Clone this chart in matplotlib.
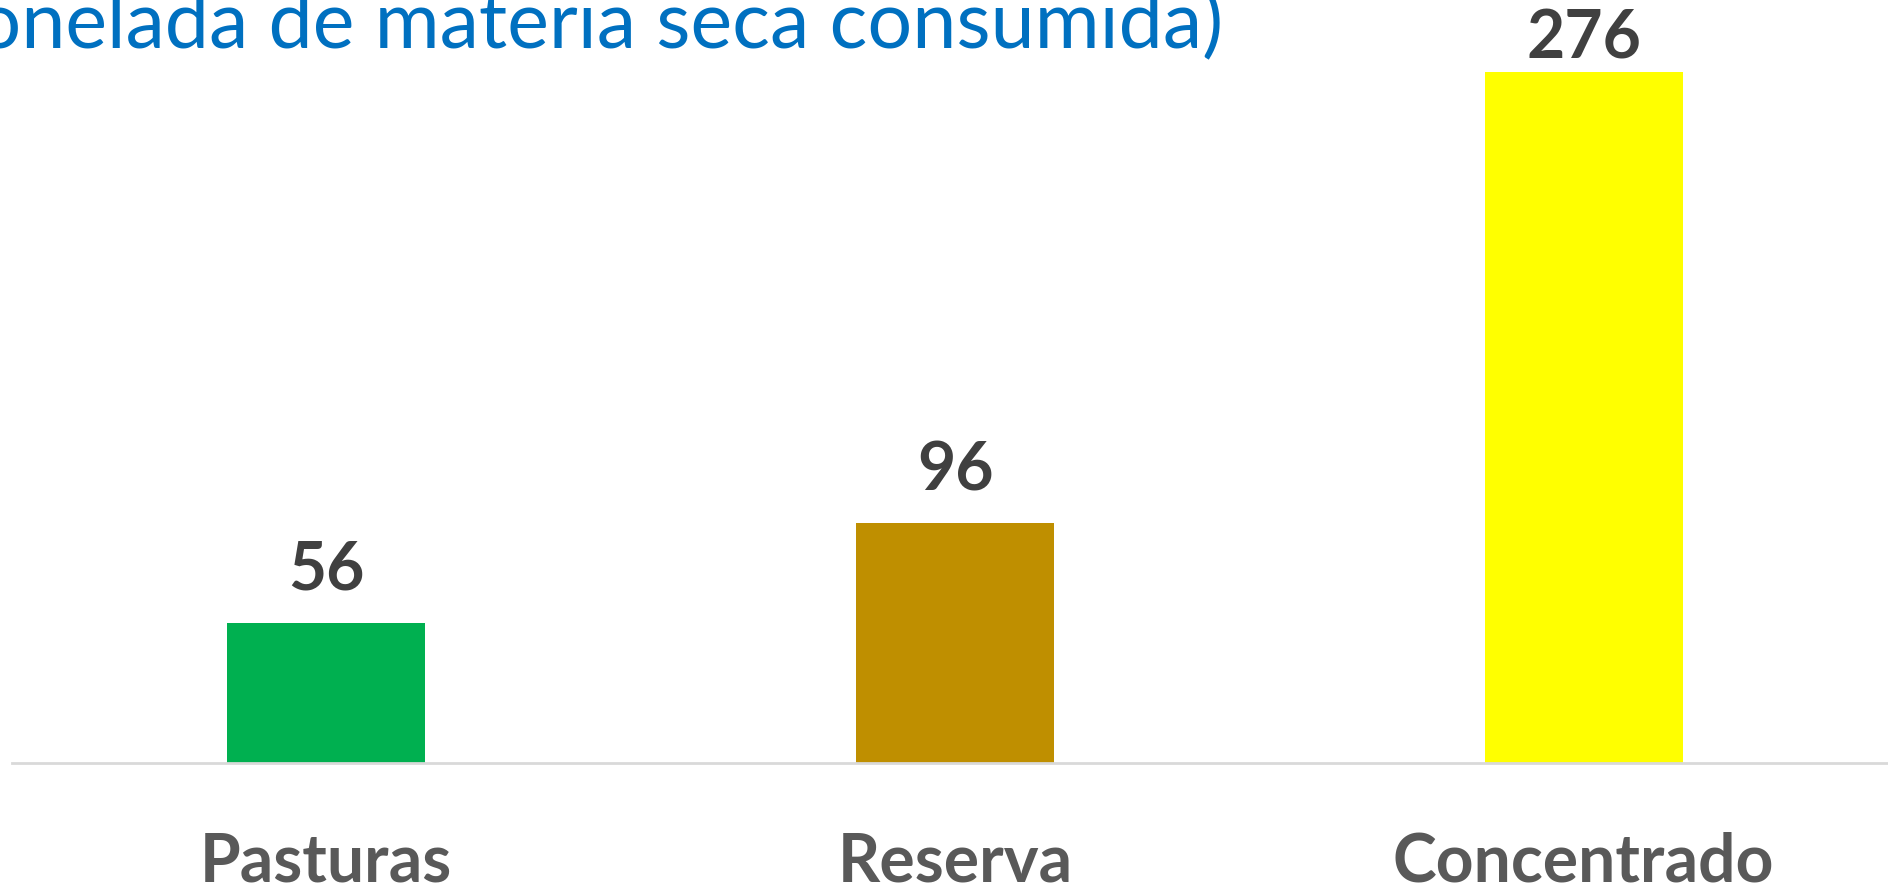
"""Consumo por tonelada de materia seca - bar chart."""

import matplotlib.pyplot as plt

categories = ['Pasturas', 'Reserva', 'Concentrado']
values = [56, 96, 276]
title_text = '(tonelada de materia seca consumida)'

colors = ['#00B050', '#BF8F00', '#FFFF00']
font = 'Lato'
px = 72 / 100  # points per pixel at dpi 100

fig = plt.figure(figsize=(18.88, 8.92), dpi=100)
W, H = 1888, 892
ax = fig.add_axes([12 / W, 129 / H, 1886 / W, 751 / H])

xs = range(len(categories))
bars = ax.bar(xs, values, width=0.315, color=colors, zorder=2)
ax.set_xlim(-0.5, 2.5)
ax.set_ylim(0, 300)

for s in ['top', 'right', 'left']:
    ax.spines[s].set_visible(False)
ax.spines['bottom'].set_color('#D9D9D9')
ax.spines['bottom'].set_linewidth(2)
ax.set_yticks([])
ax.set_xticks(list(xs))
ax.set_xticklabels(categories, fontfamily=font, fontweight='bold',
                   fontsize=66 * px, color='#595959')
ax.tick_params(axis='x', length=0, pad=68 * px)

# value labels (the tallest is squeezed against the top of the plot area)
label_gap = [33, 32, 14]
for b, v, g in zip(bars, values, label_gap):
    ax.annotate(str(v), (b.get_x() + b.get_width() / 2, v),
                xytext=(0, g * px), textcoords='offset points',
                ha='center', va='baseline', fontfamily=font, fontweight='bold',
                fontsize=66 * px, color='#404040')

fig.text(1223 / W, 1 - 48 / H, title_text, ha='right', va='baseline',
         fontfamily=font, fontsize=79 * px, color='#0070C0')

fig.savefig('out.png', dpi=100)
